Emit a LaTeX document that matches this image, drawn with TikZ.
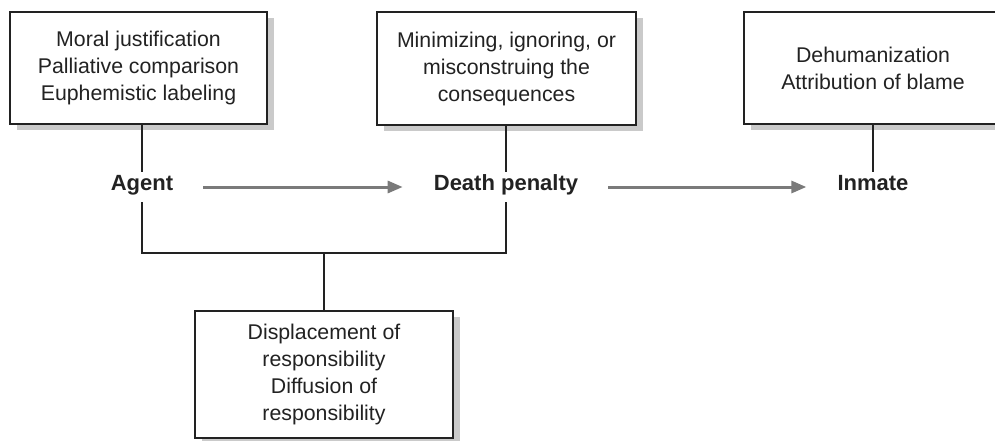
\documentclass[tikz,border=0pt]{standalone}
\usepackage{fontspec}
\setmainfont{Liberation Sans}
\usetikzlibrary{shadows,arrows.meta}
\definecolor{ink}{HTML}{222222}
\definecolor{arrowgray}{HTML}{7A7A7A}
\definecolor{shadowgray}{HTML}{CACACA}
\tikzset{
  box/.style={draw=ink, line width=1.8pt, fill=white, align=center, text=ink,
    font=\fontsize{21.3}{27}\selectfont, inner sep=0pt,
    drop shadow={shadow xshift=7pt, shadow yshift=-6pt, fill=shadowgray, opacity=1}},
  lab/.style={font=\fontsize{22}{25}\selectfont\bfseries, text=ink, anchor=base,
    text height=15pt, text depth=9pt, inner xsep=3pt, inner ysep=3pt},
  conn/.style={draw=ink, line width=1.3pt},
  flow/.style={draw=arrowgray, line width=3pt, -{Triangle[length=15pt,width=12pt]},
    shorten <=27pt, shorten >=28pt}
}
\begin{document}
\begin{tikzpicture}[x=1pt,y=-1pt]
\useasboundingbox (0,0) rectangle (995,441);
\clip (0,0) rectangle (995,441);
\node[box, minimum width=257pt, minimum height=112pt] (b1) at (138.5,68)
  {Moral justification\\Palliative comparison\\Euphemistic labeling};
\node[box, minimum width=259pt, minimum height=113pt] (b2) at (506.5,68.5)
  {Minimizing, ignoring, or\\misconstruing the\\consequences};
\node[box, minimum width=258pt, minimum height=112pt] (b3) at (873,68)
  {Dehumanization\\Attribution of blame};
\node[box, minimum width=258pt, minimum height=127pt] (b4) at (324,374.5)
  {Displacement of\\responsibility\\Diffusion of\\responsibility};
\node[lab] (agent) at (142,190) {Agent};
\node[lab] (dp) at (506,190) {Death penalty};
\node[lab] (inm) at (873,190) {Inmate};
\draw[conn] (agent.north |- b1.south) -- (agent.north);
\draw[conn] (dp.north |- b2.south) -- (dp.north);
\draw[conn] (inm.north |- b3.south) -- (inm.north);
\coordinate (bl) at (142,253);
\coordinate (br) at (506,253);
\coordinate (bm) at (324,253);
\draw[conn] (agent.south) -- (bl) -- (br) -- (dp.south);
\draw[conn] (bm) -- (b4.north);
\draw[flow] (agent.east) -- (dp.west);
\draw[flow] (dp.east) -- (inm.west);
\end{tikzpicture}
\end{document}
